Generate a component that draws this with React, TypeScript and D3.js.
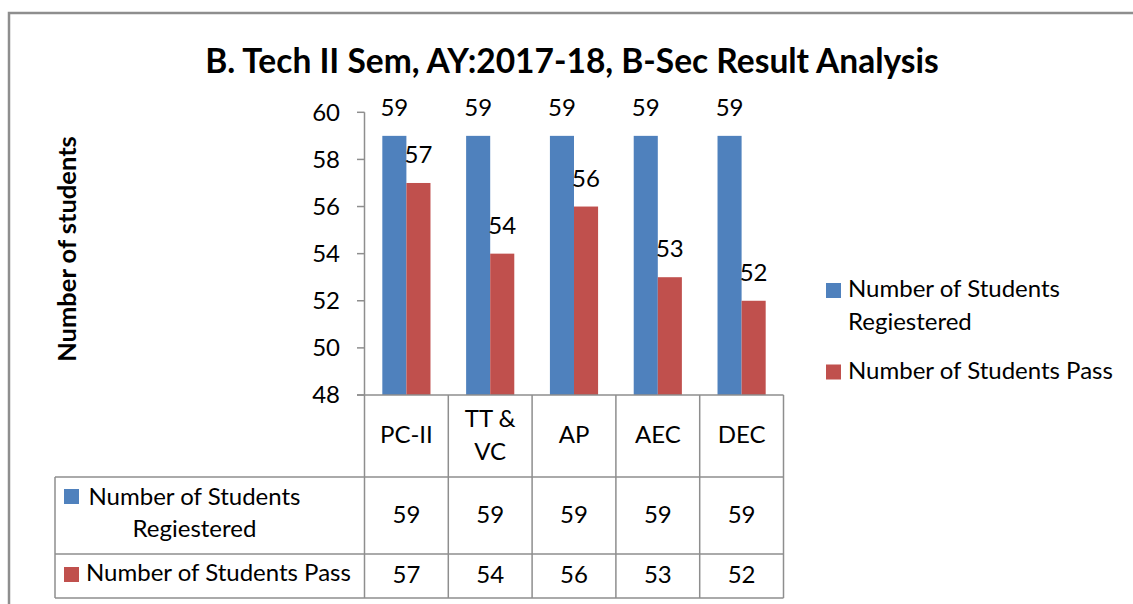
import React from 'react';
import * as d3 from 'd3';

const categories = ['PC-II', 'TT & VC', 'AP', 'AEC', 'DEC'];
const headerLines = [['PC-II'], ['TT &', 'VC'], ['AP'], ['AEC'], ['DEC']];
const seriesNames = ['Number of Students Regiestered', 'Number of Students Pass'];
const registered = [59, 59, 59, 59, 59];
const passed = [57, 54, 56, 53, 52];
const yTicks = [48, 50, 52, 54, 56, 58, 60];
const colors = ['#4F81BD', '#C0504D'];

const W = 1133;
const H = 604;
const FONT = "Lato, 'Open Sans', sans-serif";
const FS = 24;
const GRID = '#8e8e8e';

// table row boundaries
const ROW_TOP = 395;
const ROW1 = 477;
const ROW2 = 554;
const ROW3 = 598;
const TABLE_LEFT = 55;

const App: React.FC = () => {
  const x = d3.scaleBand<string>().domain(categories).range([364.5, 783.5]).padding(0);
  const x1 = d3
    .scaleBand<string>()
    .domain(seriesNames)
    .range([0, x.bandwidth()])
    .paddingInner(0)
    .paddingOuter(0.74);
  const y = d3.scaleLinear().domain([48, 60]).range([395, 112.3]);

  const series = [registered, passed];
  const bounds = [...categories.map((c) => x(c)!), x.range()[1]];

  return (
    <svg
      width={W}
      height={H}
      style={{ position: 'absolute', left: 0, top: 0, background: '#fff' }}
      fontFamily={FONT}
    >
      <rect width={W} height={H} fill="#fff" />
      {/* outer chart border */}
      <path d={`M9,${H} V13 H${W}`} fill="none" stroke={GRID} strokeWidth={2.5} />

      <text x={572} y={73} textAnchor="middle" fontWeight="bold" fontSize={33.5}>
        B. Tech II Sem, AY:2017-18, B-Sec Result Analysis
      </text>

      <text
        transform="translate(76,249) rotate(-90)"
        textAnchor="middle"
        fontWeight="bold"
        fontSize={25.5}
      >
        Number of students
      </text>

      {/* y axis */}
      <line x1={364.5} x2={364.5} y1={y(60)} y2={ROW3} stroke={GRID} strokeWidth={1.5} />
      {yTicks.map((t) => (
        <g key={t}>
          <line x1={357} x2={364.5} y1={y(t)} y2={y(t)} stroke={GRID} strokeWidth={1.5} />
          <text x={340} y={y(t)} dy="0.35em" textAnchor="end" fontSize={FS}>
            {t}
          </text>
        </g>
      ))}

      {/* bars */}
      {series.map((vals, si) =>
        categories.map((c, i) => {
          const bx = x(c)! + x1(seriesNames[si])!;
          return (
            <g key={`${si}-${c}`}>
              <rect
                x={bx}
                y={y(vals[i])}
                width={x1.bandwidth()}
                height={y(48) - y(vals[i])}
                fill={colors[si]}
              />
              <text x={bx + x1.bandwidth() / 2} y={y(vals[i]) - 20} textAnchor="middle" fontSize={FS}>
                {vals[i]}
              </text>
            </g>
          );
        })
      )}

      {/* data table grid */}
      <line x1={357} x2={783.5} y1={ROW_TOP} y2={ROW_TOP} stroke={GRID} strokeWidth={1.5} />
      {[ROW1, ROW2, ROW3].map((r) => (
        <line key={r} x1={TABLE_LEFT} x2={783.5} y1={r} y2={r} stroke={GRID} strokeWidth={1.5} />
      ))}
      <line x1={TABLE_LEFT} x2={TABLE_LEFT} y1={ROW1} y2={ROW3} stroke={GRID} strokeWidth={1.5} />
      {bounds.slice(1).map((b) => (
        <line key={b} x1={b} x2={b} y1={ROW_TOP} y2={ROW3} stroke={GRID} strokeWidth={1.5} />
      ))}

      {/* header cells */}
      {categories.map((c, i) => {
        const cx = x(c)! + x.bandwidth() / 2;
        const lines = headerLines[i];
        return lines.length === 1 ? (
          <text key={c} x={cx} y={443} textAnchor="middle" fontSize={FS}>
            {lines[0]}
          </text>
        ) : (
          <text key={c} x={cx} textAnchor="middle" fontSize={FS}>
            <tspan x={cx} y={427}>{lines[0]}</tspan>
            <tspan x={cx} y={460}>{lines[1]}</tspan>
          </text>
        );
      })}

      {/* row labels */}
      <rect x={64} y={489} width={15} height={15} fill={colors[0]} />
      <text x={194.5} textAnchor="middle" fontSize={FS}>
        <tspan x={194.5} y={505}>Number of Students</tspan>
        <tspan x={194.5} y={537}>Regiestered</tspan>
      </text>
      <rect x={64} y={567} width={15} height={15} fill={colors[1]} />
      <text x={86} y={581} fontSize={FS}>
        Number of Students Pass
      </text>

      {/* table values */}
      {series.map((vals, si) =>
        categories.map((c, i) => (
          <text
            key={`t${si}-${c}`}
            x={x(c)! + x.bandwidth() / 2}
            y={si === 0 ? 523 : 583}
            textAnchor="middle"
            fontSize={FS}
          >
            {vals[i]}
          </text>
        ))
      )}

      {/* legend */}
      <rect x={826} y={283} width={15} height={15} fill={colors[0]} />
      <text fontSize={FS}>
        <tspan x={848} y={297}>Number of Students</tspan>
        <tspan x={848} y={330}>Regiestered</tspan>
      </text>
      <rect x={826} y={364.5} width={15} height={15} fill={colors[1]} />
      <text x={848} y={379} fontSize={FS}>
        Number of Students Pass
      </text>
    </svg>
  );
};

export default App;
